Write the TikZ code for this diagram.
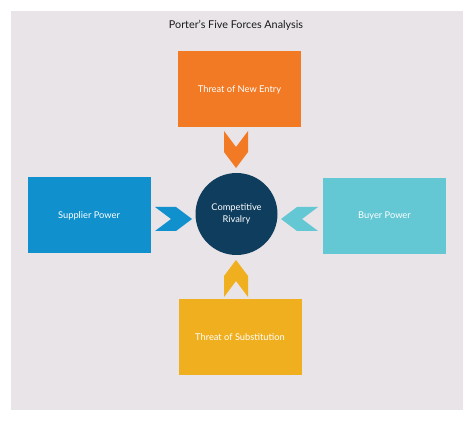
\documentclass[tikz,border=0pt]{standalone}
\usepackage{fontspec}
\setmainfont{Lato}
\usetikzlibrary{positioning}
\definecolor{fondo}{HTML}{E8E4E8}
\definecolor{naranja}{HTML}{F37A24}
\definecolor{azul}{HTML}{1091CE}
\definecolor{celeste}{HTML}{63C7D4}
\definecolor{amarillo}{HTML}{F0AF1F}
\definecolor{marino}{HTML}{0E3D5E}
\tikzset{
	fuerza/.style={rectangle, minimum width=123pt, minimum height=76pt, inner sep=0pt, text=white, font=\fontsize{9.3}{11}\selectfont},
	chevron/.pic={\fill (0,-12) -- (21,-12) -- (37,0) -- (21,12) -- (0,12) -- (16,0) -- cycle;}
}
\begin{document}
\begin{tikzpicture}[x=1pt,y=-1pt]
	\useasboundingbox (0,0) rectangle (474,422); %marco
	\fill[fondo] (11,11) rectangle (463,410); %panel de fondo
	\node[font=\fontsize{10.8}{12}\selectfont, text=black!90] (titulo) at (236,25) {Porter's Five Forces Analysis}; %titulo
	\node[fuerza, fill=naranja] (entrada) at (239.5,89.5) {Threat of New Entry}; %arriba
	\node[fuerza, fill=azul] (proveedor) at (89,215.5) {Supplier Power}; %izquierda
	\node[fuerza, fill=celeste] (comprador) at (384.5,216) {Buyer Power}; %derecha
	\node[fuerza, fill=amarillo] (sustitucion) at (240,337) {Threat of Substitution}; %abajo
	\node[circle, fill=marino, minimum size=82pt, inner sep=0pt, text=white, align=center, font=\fontsize{9.3}{12}\selectfont] (rivalidad) at (236.5,214) {Competitive\\Rivalry}; %centro
	\pic[naranja, rotate=-90] at (236,131) {chevron}; %flecha de entrada
	\pic[amarillo, rotate=90] at (236,297) {chevron}; %flecha de sustitucion
	\pic[azul] at (155,219) {chevron}; %flecha de proveedor
	\pic[celeste, rotate=180] at (318,219) {chevron}; %flecha de comprador
\end{tikzpicture}
\end{document}
